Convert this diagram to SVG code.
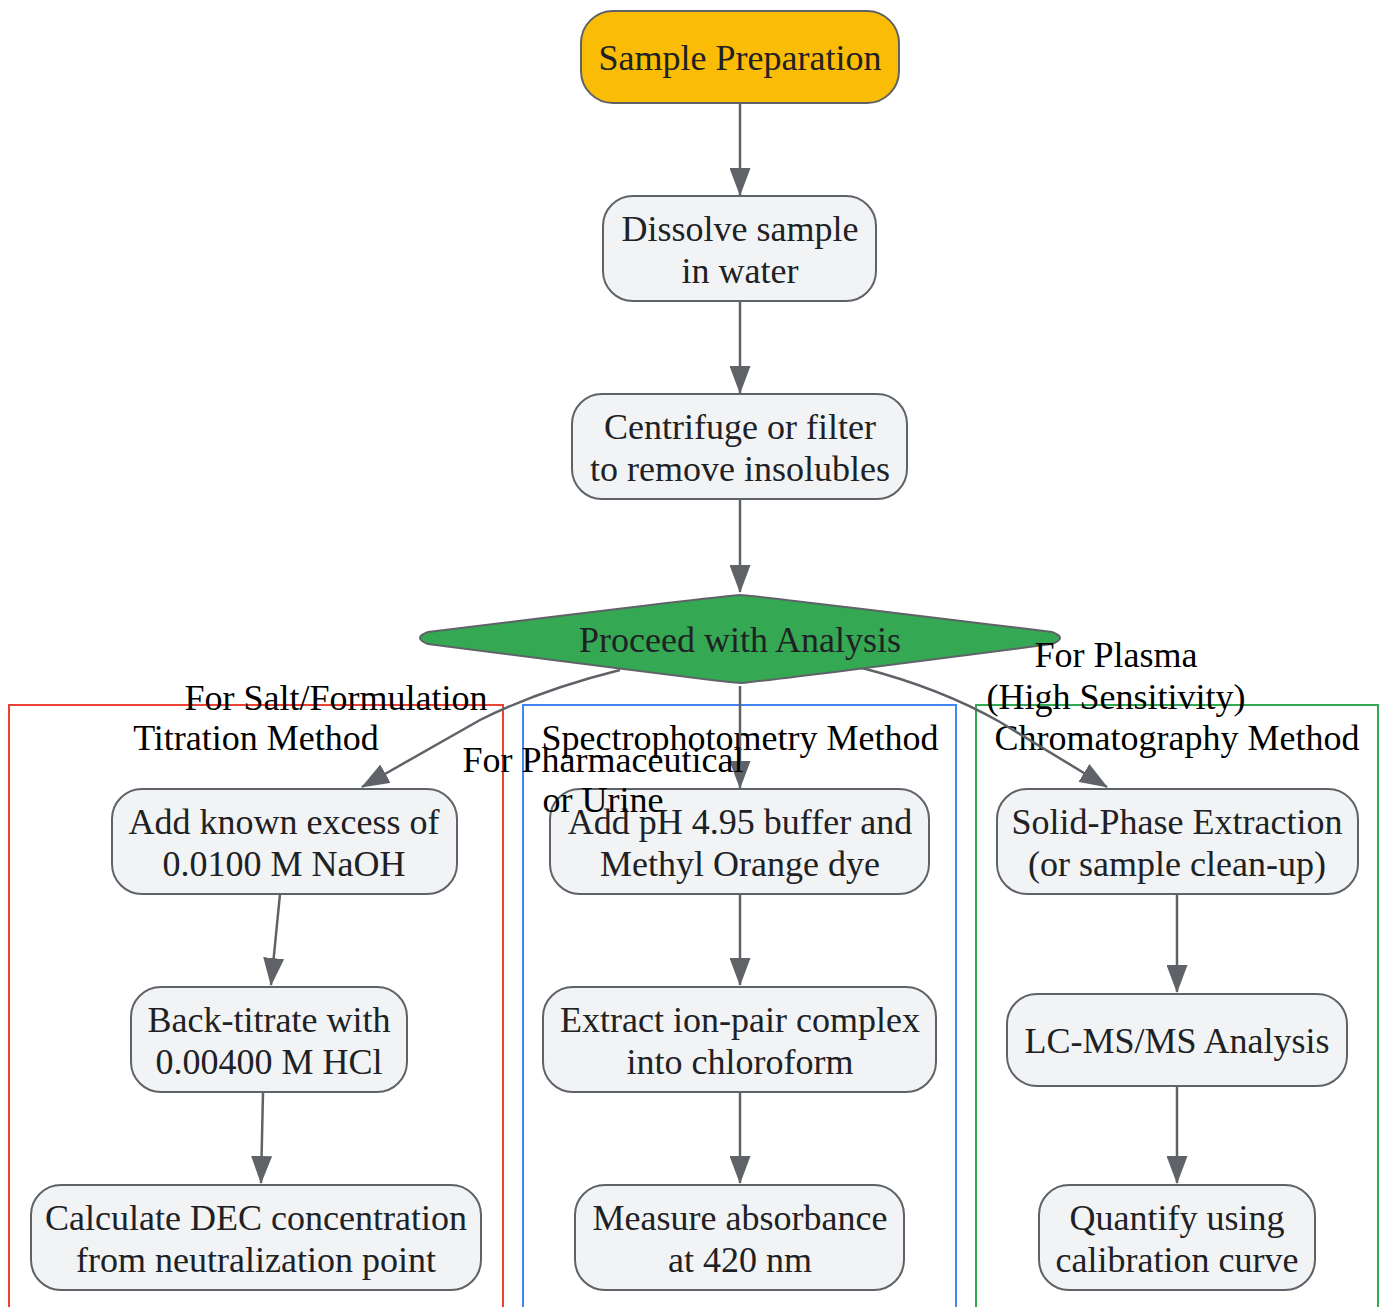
<svg xmlns="http://www.w3.org/2000/svg" width="1386" height="1307" viewBox="0 0 1386 1307">
<defs>
<marker id="ah" viewBox="0 0 28 21" refX="27" refY="10.5" markerWidth="28" markerHeight="21" markerUnits="userSpaceOnUse" orient="auto">
<path d="M0,0 L28,10.5 L0,21 Z" fill="#5f6368"/>
</marker>
<style>
.n{fill:#f1f3f4;stroke:#5f6368;stroke-width:2}
.t{font-family:'Liberation Serif',serif;font-size:36px;fill:#202124;text-anchor:middle}
.l{font-family:'Liberation Serif',serif;font-size:36px;fill:#000;text-anchor:middle}
.e{fill:none;stroke:#5f6368;stroke-width:2.5;marker-end:url(#ah)}
.c{fill:none;stroke-width:2}
</style>
</defs>
<rect width="1386" height="1307" fill="#fff"/>
<g id="clusters">
<g id="cluster-titration"><rect class="c" x="9" y="705" width="494" height="620" stroke="#ea4335"/><text class="l" x="256" y="750">Titration Method</text></g>
<g id="cluster-spectro"><rect class="c" x="523" y="705" width="433" height="620" stroke="#4285f4"/><text class="l" x="740" y="750">Spectrophotometry Method</text></g>
<g id="cluster-chrom"><rect class="c" x="976" y="705" width="402" height="620" stroke="#34a853"/><text class="l" x="1177" y="750">Chromatography Method</text></g>
</g>
<g id="connectors">
<line class="e" x1="740" y1="103" x2="740" y2="195"/>
<line class="e" x1="740" y1="301" x2="740" y2="393"/>
<line class="e" x1="740" y1="499" x2="740" y2="592"/>
<path class="e" d="M620,670 Q540,690 480,720 L362,787"/>
<line class="e" x1="740" y1="686" x2="740" y2="788"/>
<path class="e" d="M862,668 Q940,688 1000,722 L1107,787"/>
<line class="e" x1="280" y1="894" x2="271" y2="985"/>
<line class="e" x1="263" y1="1092" x2="261" y2="1183"/>
<line class="e" x1="740" y1="894" x2="740" y2="985"/>
<line class="e" x1="740" y1="1092" x2="740" y2="1183"/>
<line class="e" x1="1177" y1="894" x2="1177" y2="992"/>
<line class="e" x1="1177" y1="1086" x2="1177" y2="1183"/>
</g>
<g id="n-start"><rect x="581" y="11" width="318" height="92" rx="32" fill="#fbbc05" stroke="#5f6368" stroke-width="2"/><text class="t" x="740" y="70">Sample Preparation</text></g>
<g id="n-dissolve"><rect class="n" x="603" y="196" width="273" height="105" rx="30"/><text class="t" x="740" y="241">Dissolve sample</text><text class="t" x="740" y="283">in water</text></g>
<g id="n-centrifuge"><rect class="n" x="572" y="394" width="335" height="105" rx="30"/><text class="t" x="740" y="439">Centrifuge or filter</text><text class="t" x="740" y="481">to remove insolubles</text></g>
<g id="n-decision"><path d="M740,595 Q750,595 1052,632 Q1068,638 1052,644 Q750,683 740,683 Q730,683 428,644 Q412,638 428,632 Q730,595 740,595 Z" fill="#34a853" stroke="#5f6368" stroke-width="2"/><text class="t" x="740" y="652">Proceed with Analysis</text></g>
<g id="n-t1"><rect class="n" x="112" y="789" width="345" height="105" rx="30"/><text class="t" x="284" y="834">Add known excess of</text><text class="t" x="284" y="876">0.0100 M NaOH</text></g>
<g id="n-t2"><rect class="n" x="131" y="987" width="276" height="105" rx="30"/><text class="t" x="269" y="1032">Back-titrate with</text><text class="t" x="269" y="1074">0.00400 M HCl</text></g>
<g id="n-t3"><rect class="n" x="31" y="1185" width="450" height="105" rx="30"/><text class="t" x="256" y="1230">Calculate DEC concentration</text><text class="t" x="256" y="1272">from neutralization point</text></g>
<g id="n-s1"><rect class="n" x="550" y="789" width="379" height="105" rx="30"/><text class="t" x="740" y="834">Add pH 4.95 buffer and</text><text class="t" x="740" y="876">Methyl Orange dye</text></g>
<g id="n-s2"><rect class="n" x="543" y="987" width="393" height="105" rx="30"/><text class="t" x="740" y="1032">Extract ion-pair complex</text><text class="t" x="740" y="1074">into chloroform</text></g>
<g id="n-s3"><rect class="n" x="575" y="1185" width="329" height="105" rx="30"/><text class="t" x="740" y="1230">Measure absorbance</text><text class="t" x="740" y="1272">at 420 nm</text></g>
<g id="n-c1"><rect class="n" x="997" y="789" width="361" height="105" rx="30"/><text class="t" x="1177" y="834">Solid-Phase Extraction</text><text class="t" x="1177" y="876">(or sample clean-up)</text></g>
<g id="n-c2"><rect class="n" x="1007" y="994" width="340" height="92" rx="30"/><text class="t" x="1177" y="1053">LC-MS/MS Analysis</text></g>
<g id="n-c3"><rect class="n" x="1039" y="1185" width="276" height="105" rx="30"/><text class="t" x="1177" y="1230">Quantify using</text><text class="t" x="1177" y="1272">calibration curve</text></g>
<g id="edge-labels">
<text class="l" x="336" y="710">For Salt/Formulation</text>
<text class="l" x="603" y="772">For Pharmaceutical</text>
<text class="l" x="603" y="812">or Urine</text>
<text class="l" x="1116" y="667">For Plasma</text>
<text class="l" x="1116" y="709">(High Sensitivity)</text>
</g>
</svg>
